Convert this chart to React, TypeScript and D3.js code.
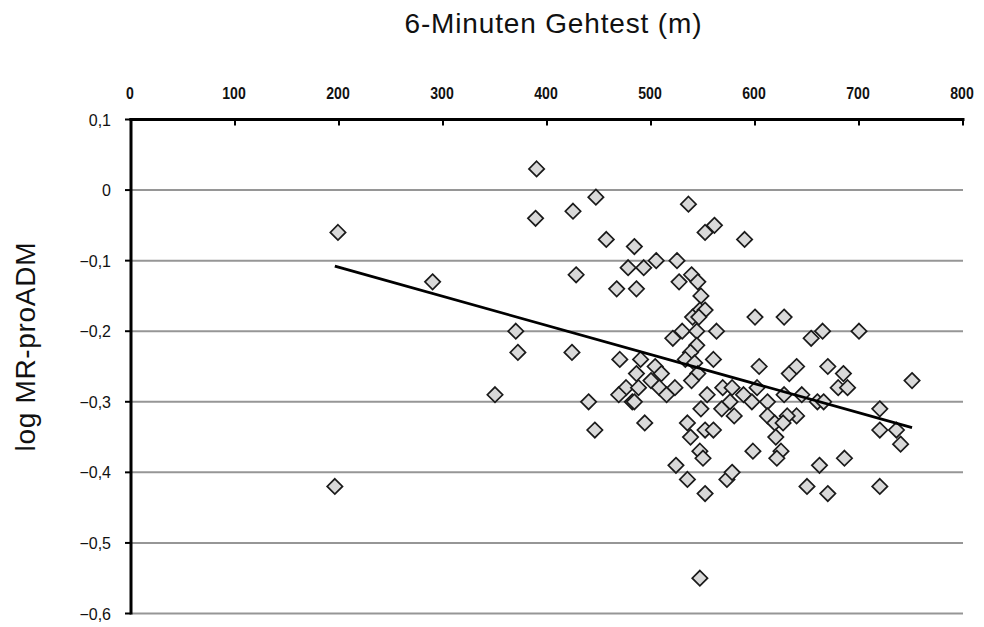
import React from "react";
import * as d3 from "d3";

// 6-minute walk distance (m) per patient
const walkDistance: number[] = [
  199, 196, 290, 350, 370, 372, 390, 389, 425, 428, 424, 447, 440, 446, 457, 467,
  484, 478, 493, 486, 505, 470, 490, 476, 469, 482, 484, 488, 486, 494, 500, 504,
  510, 508, 515, 523, 521, 525, 527, 536, 539, 545, 548, 547, 552, 540, 546, 530,
  544, 544, 538, 533, 542, 545, 539, 554, 548, 535, 552, 560, 538, 547, 550, 524,
  535, 552, 547, 552, 561, 590, 563, 560, 569, 578, 568, 576, 580, 573, 578, 600,
  628, 589, 597, 602, 604, 612, 612, 619, 628, 640, 633, 640, 645, 631, 627, 620,
  625, 621, 598, 654, 665, 700, 670, 685, 680, 689, 660, 666, 662, 686, 650, 670,
  720, 720, 720, 736, 740, 751,
];

// log MR-proADM per patient (same order)
const logMrProAdm: number[] = [
  -0.06, -0.42, -0.13, -0.29, -0.2, -0.23, 0.03, -0.04, -0.03, -0.12, -0.23, -0.01, -0.3, -0.34, -0.07, -0.14,
  -0.08, -0.11, -0.11, -0.14, -0.1, -0.24, -0.24, -0.28, -0.29, -0.3, -0.3, -0.28, -0.26, -0.33, -0.27, -0.25,
  -0.26, -0.28, -0.29, -0.28, -0.21, -0.1, -0.13, -0.02, -0.12, -0.13, -0.15, -0.17, -0.17, -0.18, -0.18, -0.2,
  -0.2, -0.22, -0.23, -0.24, -0.245, -0.26, -0.27, -0.29, -0.31, -0.33, -0.34, -0.34, -0.35, -0.37, -0.38, -0.39,
  -0.41, -0.43, -0.55, -0.06, -0.05, -0.07, -0.2, -0.24, -0.28, -0.28, -0.31, -0.3, -0.32, -0.41, -0.4, -0.18,
  -0.18, -0.29, -0.3, -0.28, -0.25, -0.3, -0.32, -0.33, -0.29, -0.32, -0.26, -0.25, -0.29, -0.32, -0.33, -0.35,
  -0.37, -0.38, -0.37, -0.21, -0.2, -0.2, -0.25, -0.26, -0.28, -0.28, -0.3, -0.3, -0.39, -0.38, -0.42, -0.43,
  -0.42, -0.31, -0.34, -0.34, -0.36, -0.27,
];

const xTicks: number[] = [0, 100, 200, 300, 400, 500, 600, 700, 800];
const yTicks: number[] = [0.1, 0, -0.1, -0.2, -0.3, -0.4, -0.5, -0.6];

const WIDTH = 984;
const HEIGHT = 627;
const PLOT = { left: 131, right: 963, top: 119.5, bottom: 613.5 };

const fmtComma = (v: number) => {
  const s = d3.format(".1f")(v);
  if (s === "0.0" || s === "-0.0") return "0";
  return s.replace(".", ",");
};

export default function App() {
  const x = d3.scaleLinear().domain([0, 800]).range([PLOT.left, PLOT.right]);
  const y = d3.scaleLinear().domain([-0.6, 0.1]).range([PLOT.bottom, PLOT.top]);

  const points = walkDistance.map((d, i) => ({ x: d, y: logMrProAdm[i] }));

  // least-squares trend line
  const mx = d3.mean(walkDistance) as number;
  const my = d3.mean(logMrProAdm) as number;
  let sxy = 0;
  let sxx = 0;
  points.forEach((p) => {
    sxy += (p.x - mx) * (p.y - my);
    sxx += (p.x - mx) * (p.x - mx);
  });
  const slope = sxy / sxx;
  const intercept = my - slope * mx;
  const [xMin, xMax] = d3.extent(walkDistance) as [number, number];
  const trend = d3.line<number>()
    .x((d) => x(d))
    .y((d) => y(intercept + slope * d))([xMin, xMax]);

  const diamond = d3.symbol().type(d3.symbolDiamond2).size(150)();

  return (
    <svg width={WIDTH} height={HEIGHT} style={{ position: "absolute", left: 0, top: 0, background: "#fff" }}>
      <rect width={WIDTH} height={HEIGHT} fill="#fff" />
      <text
        x={553}
        y={33}
        textAnchor="middle"
        fontFamily="Liberation Sans, Arial, sans-serif"
        fontSize={28}
        textLength={297}
        lengthAdjust="spacing"
        fill="#111"
      >
        6-Minuten Gehtest (m)
      </text>
      <text
        transform={`translate(35, 347) rotate(-90)`}
        textAnchor="middle"
        fontFamily="Liberation Sans, Arial, sans-serif"
        fontSize={28}
        textLength={209}
        lengthAdjust="spacing"
        fill="#111"
      >
        log MR-proADM
      </text>

      {/* horizontal gridlines */}
      {yTicks.filter((t) => t < 0.1).map((t) => (
        <line
          key={`g${t}`}
          x1={PLOT.left}
          x2={PLOT.right}
          y1={y(t)}
          y2={y(t)}
          stroke="#969696"
          strokeWidth={2}
        />
      ))}

      {/* top x axis */}
      <line x1={PLOT.left - 1.5} x2={PLOT.right + 1.5} y1={PLOT.top} y2={PLOT.top} stroke="#000" strokeWidth={3} />
      {xTicks.map((t) => (
        <g key={`x${t}`}>
          <line x1={x(t)} x2={x(t)} y1={PLOT.top} y2={PLOT.top + 6} stroke="#000" strokeWidth={2} />
          <text
            transform={`translate(${x(t) - 1},99) scale(0.88,1)`}
            textAnchor="middle"
            fontFamily="Liberation Sans, Arial, sans-serif"
            fontWeight="bold"
            fontSize={16}
            fill="#111"
          >
            {t}
          </text>
        </g>
      ))}

      {/* left y axis */}
      <line x1={PLOT.left} x2={PLOT.left} y1={PLOT.top - 1.5} y2={PLOT.bottom + 1} stroke="#000" strokeWidth={3} />
      {yTicks.map((t) => (
        <g key={`y${t}`}>
          <line x1={PLOT.left - 6} x2={PLOT.left} y1={y(t)} y2={y(t)} stroke="#000" strokeWidth={2} />
          <text
            x={PLOT.left - 20}
            y={y(t) + 6}
            textAnchor="end"
            fontFamily="Liberation Sans, Arial, sans-serif"
            fontSize={16}
            fill="#111"
          >
            {fmtComma(t)}
          </text>
        </g>
      ))}

      {/* data points */}
      {points.map((p, i) => (
        <path
          key={i}
          d={diamond as string}
          transform={`translate(${x(p.x)},${y(p.y)})`}
          fill="#d9d9d9"
          stroke="#1a1a1a"
          strokeWidth={1.7}
        />
      ))}

      {/* regression line */}
      <path d={trend as string} fill="none" stroke="#000" strokeWidth={2.8} />
    </svg>
  );
}
